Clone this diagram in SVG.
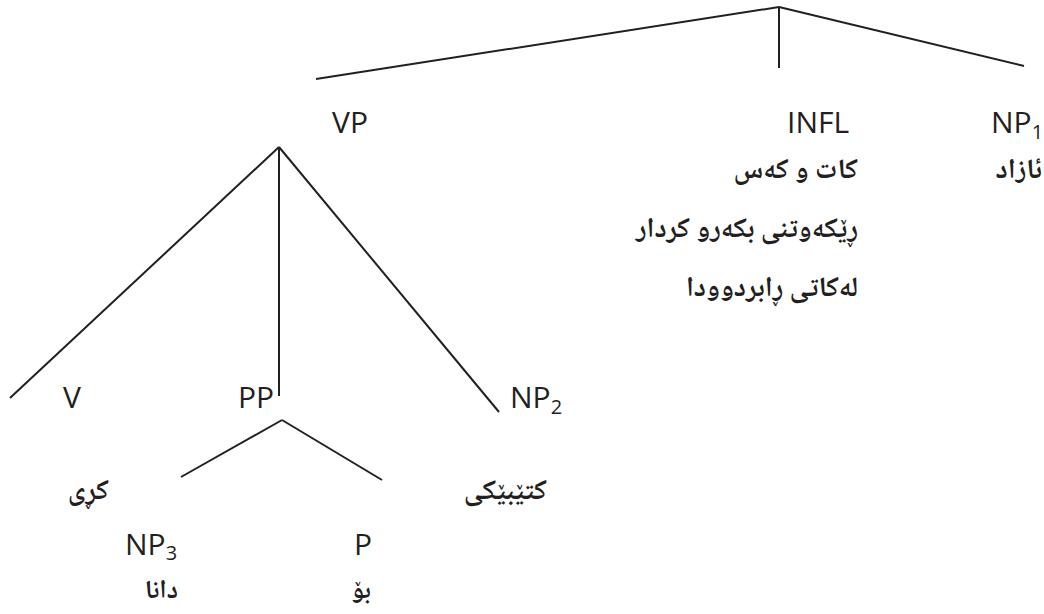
<svg xmlns="http://www.w3.org/2000/svg" width="1044" height="614" viewBox="0 0 1044 614">
<style>
.lbl{font-family:"Open Sans","Noto Sans","DejaVu Sans",sans-serif;font-size:30px;fill:#231f20}
.sub{font-size:20px}
.ku{font-family:"Noto Naskh Arabic","Noto Sans Arabic","DejaVu Sans",sans-serif;font-size:28px;font-weight:bold;fill:#231f20}
.sm{font-size:26px}
.edge{stroke:#231f20;stroke-width:2;fill:none;stroke-linecap:butt}
</style>
<rect width="1044" height="614" fill="#ffffff"/>
<g id="connectors">
<line class="edge" x1="779" y1="7" x2="316" y2="79"/>
<line class="edge" x1="779" y1="7" x2="779" y2="68"/>
<line class="edge" x1="779" y1="7" x2="1024" y2="66"/>
<line class="edge" x1="279" y1="147" x2="10" y2="398"/>
<line class="edge" x1="279" y1="147" x2="279" y2="396"/>
<line class="edge" x1="279" y1="147" x2="499" y2="412"/>
<line class="edge" x1="282" y1="420" x2="181" y2="477"/>
<line class="edge" x1="282" y1="420" x2="382" y2="480"/>
</g>
<g id="node-vp"><text class="lbl" x="332" y="133">VP</text></g>
<g id="node-infl">
<text class="lbl" x="787" y="133">INFL</text>
<text class="ku" x="858" y="178" text-anchor="end">کات و کەس</text>
<text class="ku" x="858" y="237" text-anchor="end">ڕێکەوتنی بکەرو کردار</text>
<text class="ku" x="858" y="296" text-anchor="end">لەکاتی ڕابردوودا</text>
</g>
<g id="node-np1">
<text class="lbl" x="991" y="133">NP<tspan class="sub" dy="6">1</tspan></text>
<text class="ku" x="1042" y="178" text-anchor="end">ئازاد</text>
</g>
<g id="node-v">
<text class="lbl" x="63" y="408">V</text>
<text class="ku" x="109" y="499" text-anchor="end">کڕی</text>
</g>
<g id="node-pp"><text class="lbl" x="238" y="408">PP</text></g>
<g id="node-np2">
<text class="lbl" x="510" y="408">NP<tspan class="sub" dy="6">2</tspan></text>
<text class="ku" x="547" y="499" text-anchor="end">کتێبێکی</text>
</g>
<g id="node-np3">
<text class="lbl" x="125" y="555">NP<tspan class="sub" dy="5">3</tspan></text>
<text class="ku sm" x="178" y="598" text-anchor="end">دانا</text>
</g>
<g id="node-p">
<text class="lbl" x="354" y="555">P</text>
<text class="ku sm" x="371" y="598" text-anchor="end">بۆ</text>
</g>
</svg>
